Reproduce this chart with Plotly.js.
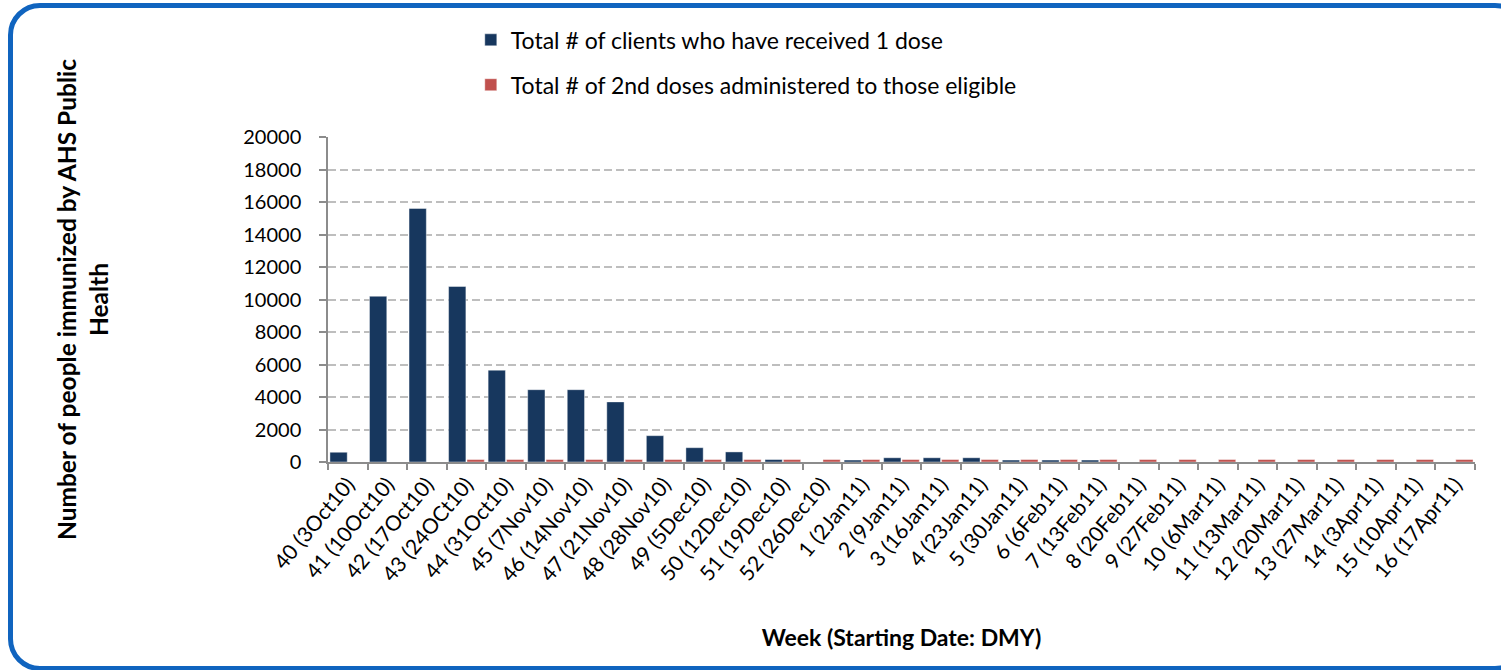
<!DOCTYPE html>
<html>
<head>
<meta charset="utf-8">
<script src="https://cdn.plot.ly/plotly-3.0.1.min.js"></script>
<style>
html,body{margin:0;padding:0;background:#fff;}
#chart{position:absolute;left:0;top:0;width:1501px;height:670px;}
#frame{position:absolute;left:8px;top:3px;width:1519px;height:668px;box-sizing:border-box;border:5px solid #1064BF;border-radius:32px;pointer-events:none;}
</style>
</head>
<body>
<div id="chart"></div>
<div id="frame"></div>
<script>
const weekLabels = [
  "40 (3Oct10)", "41 (10Oct10)", "42 (17Oct10)", "43 (24OCt10)", "44 (31Oct10)",
  "45 (7Nov10)", "46 (14Nov10)", "47 (21Nov10)", "48 (28Nov10)", "49 (5Dec10)",
  "50 (12Dec10)", "51 (19Dec10)", "52 (26Dec10)", "1 (2Jan11)", "2 (9Jan11)",
  "3 (16Jan11)", "4 (23Jan11)", "5 (30Jan11)", "6 (6Feb11)", "7 (13Feb11)",
  "8 (20Feb11)", "9 (27Feb11)", "10 (6Mar11)", "11 (13Mar11)", "12 (20Mar11)",
  "13 (27Mar11)", "14 (3Apr11)", "15 (10Apr11)", "16 (17Apr11)"
];
const firstDose = [
  600, 10200, 15600, 10800, 5650,
  4450, 4450, 3700, 1620, 880,
  620, 150, 0, 120, 260,
  260, 260, 120, 120, 120,
  0, 0, 0, 0, 0,
  0, 0, 0, 0
];
const secondDose = [
  0, 0, 0, 150, 150,
  150, 150, 150, 150, 150,
  150, 150, 150, 150, 150,
  150, 150, 150, 150, 150,
  150, 150, 150, 150, 150,
  150, 150, 150, 150
];
const yTicks = [0, 2000, 4000, 6000, 8000, 10000, 12000, 14000, 16000, 18000, 20000];

const FONT = "Lato, 'Open Sans', sans-serif";

const data = [
  {
    type: "bar",
    name: "Total # of clients who have received 1 dose",
    x: weekLabels,
    y: firstDose,
    legendgroup: "a",
    marker: {color: "#17375E", line: {color: "rgba(255,255,255,0.7)", width: 0.6}},
    hoverinfo: "x+y"
  },
  {
    type: "bar",
    name: "Total # of 2nd doses administered to those eligible",
    x: weekLabels,
    y: secondDose,
    legendgroup: "b",
    marker: {color: "#C0504D", line: {color: "rgba(255,255,255,0.7)", width: 0.6}},
    hoverinfo: "x+y"
  }
];

const layout = {
  width: 1501,
  height: 670,
  margin: {l: 328, r: 26, t: 137, b: 208},
  paper_bgcolor: "#fff",
  plot_bgcolor: "#fff",
  font: {family: FONT, color: "#000", size: 20},
  barmode: "group",
  bargap: 0.07,
  bargroupgap: 0.06,
  showlegend: true,
  legend: {
    x: 0.1245, y: 1.365, xanchor: "left", yanchor: "top",
    orientation: "v",
    font: {family: FONT, size: 23, color: "#000"},
    tracegroupgap: 12,
    bgcolor: "rgba(0,0,0,0)"
  },
  xaxis: {
    type: "category",
    tickangle: -50,
    tickson: "boundaries",
    ticks: "outside",
    ticklen: 6,
    tickcolor: "#8C8C8C",
    tickwidth: 1.5,
    showline: true,
    linecolor: "#8C8C8C",
    linewidth: 1.5,
    showgrid: false,
    tickfont: {family: FONT, size: 21, color: "#000"},
    title: {
      text: "Week (Starting Date: DMY)",
      font: {family: FONT, size: 23, color: "#000", weight: "bold"},
      standoff: 45
    }
  },
  yaxis: {
    range: [0, 20000],
    tickvals: yTicks,
    ticktext: yTicks.map(String),
    ticks: "outside",
    ticklen: 7,
    tickcolor: "#8C8C8C",
    tickwidth: 1.5,
    ticklabelstandoff: 14,
    showline: true,
    linecolor: "#8C8C8C",
    linewidth: 1.5,
    showgrid: true,
    gridcolor: "#BEBEBE",
    gridwidth: 1.5,
    griddash: "8px,4px",
    zeroline: false,
    tickfont: {family: FONT, size: 20, color: "#000"},
    title: {
      text: "Number of people immunized by AHS Public<br>Health",
      font: {family: FONT, size: 24.5, color: "#000", weight: "bold"},
      standoff: 128
    }
  }
};

Plotly.newPlot("chart", data, layout, {displayModeBar: false, responsive: false});
</script>
</body>
</html>
